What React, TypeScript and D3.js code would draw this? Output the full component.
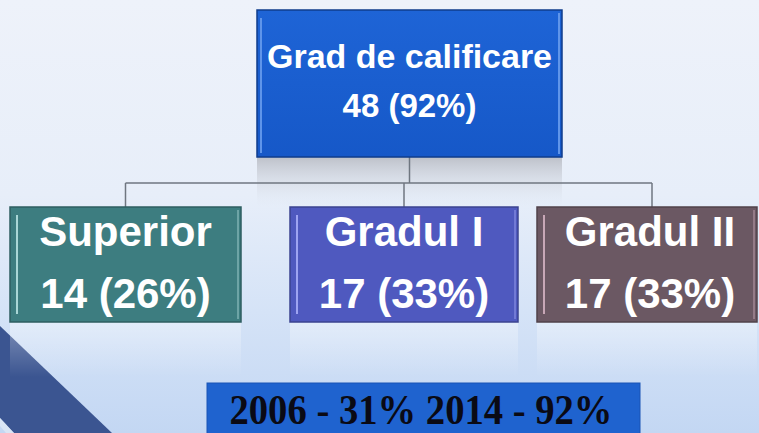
import React from "react";
import * as d3 from "d3";

// ---- data ----
const rootLabel = "Grad de calificare";
const rootValue = 48;
const rootPercent = 92;
const childLabels = ["Superior", "Gradul I", "Gradul II"];
const childValues = [14, 17, 17];
const childPercents = [26, 33, 33];
const childColors = ["#3d7d80", "#4f59bf", "#6b5863"];
const childHighlights = ["#a9d6d6", "#9ea4f2", "#c7a7b6"];
const footerYears = ["2006", "2014"];
const footerPercents = [31, 92];

// ---- layout (not data) ----
const W = 759;
const H = 433;
const childCenters = [125.5, 404, 647];
const childWidths = [231, 228, 220];

export default function App() {
  const xs = d3.scaleOrdinal<string, number>().domain(childLabels).range(childCenters);
  const ws = d3.scaleOrdinal<string, number>().domain(childLabels).range(childWidths);

  const root = { x0: 257, x1: 562, y0: 10, y1: 157 };
  const busY = 183;
  const childTop = 207;
  const childBottom = 322;
  const rootCx = (root.x0 + root.x1) / 2;

  const footerText = footerYears
    .map((yr, i) => `${yr} - ${footerPercents[i]}%`)
    .join(" ");

  const font = "'Liberation Sans', Arial, sans-serif";

  return (
    <svg
      width={W}
      height={H}
      viewBox={`0 0 ${W} ${H}`}
      style={{ position: "absolute", left: 0, top: 0, display: "block" }}
    >
      <defs>
        <linearGradient id="bg" x1="0" y1="0" x2="0" y2="1">
          <stop offset="0" stopColor="#eef2fa" />
          <stop offset="0.45" stopColor="#e7eef9" />
          <stop offset="0.72" stopColor="#d5e3f7" />
          <stop offset="1" stopColor="#c3d7f3" />
        </linearGradient>
        <linearGradient id="refl" x1="0" y1="0" x2="0" y2="1">
          <stop offset="0" stopColor="#b9bcc4" stopOpacity="0.9" />
          <stop offset="1" stopColor="#dde3ee" stopOpacity="0" />
        </linearGradient>
        <linearGradient id="refl2" x1="0" y1="0" x2="0" y2="1">
          <stop offset="0" stopColor="#ffffff" stopOpacity="0.35" />
          <stop offset="1" stopColor="#ffffff" stopOpacity="0" />
        </linearGradient>
        <linearGradient id="rootFill" x1="0" y1="0" x2="0" y2="1">
          <stop offset="0" stopColor="#1e64d6" />
          <stop offset="1" stopColor="#1658c8" />
        </linearGradient>
      </defs>

      <rect x={0} y={0} width={W} height={H} fill="url(#bg)" />

      {/* diagonal band bottom-left */}
      <polygon points={`0,326 112,${H} 14,${H} 0,418`} fill="#3b5591" />
      <polygon points={`0,418 14,${H} 6,${H} 0,426`} fill="#dfe8f5" opacity={0.8} />

      {/* reflection under root */}
      <rect x={root.x0} y={root.y1} width={root.x1 - root.x0} height={50} fill="url(#refl)" />
      {/* reflections under children */}
      {childLabels.map((c) => (
        <rect
          key={"r" + c}
          x={xs(c) - ws(c) / 2}
          y={childBottom}
          width={ws(c)}
          height={55}
          fill="url(#refl2)"
        />
      ))}

      {/* connectors */}
      <g stroke="#6f7680" strokeWidth={1.5} fill="none">
        <line x1={rootCx} y1={root.y1} x2={rootCx} y2={busY} />
        <line x1={xs(childLabels[0])} y1={busY} x2={xs(childLabels[2]) + 5} y2={busY} />
        {childLabels.map((c, i) => (
          <line
            key={"l" + c}
            x1={i === 2 ? xs(c) + 5 : xs(c)}
            y1={busY}
            x2={i === 2 ? xs(c) + 5 : xs(c)}
            y2={childTop}
          />
        ))}
      </g>

      {/* root box */}
      <rect
        x={root.x0}
        y={root.y0}
        width={root.x1 - root.x0}
        height={root.y1 - root.y0}
        fill="url(#rootFill)"
        stroke="#0f3d8c"
        strokeWidth={1.5}
      />
      <line x1={root.x0 + 4} y1={root.y0 + 8} x2={root.x0 + 4} y2={root.y1 - 4} stroke="#5f95ea" strokeWidth={2} />
      <line x1={root.x1 - 3} y1={root.y0 + 3} x2={root.x1 - 3} y2={root.y1 - 3} stroke="#5f95ea" strokeWidth={2} />
      <text
        x={rootCx}
        y={68}
        textAnchor="middle"
        fill="#ffffff"
        fontFamily={font}
        fontWeight="bold"
        fontSize={34}
        textLength={285}
        lengthAdjust="spacingAndGlyphs"
      >
        {rootLabel}
      </text>
      <text
        x={rootCx}
        y={117}
        textAnchor="middle"
        fill="#ffffff"
        fontFamily={font}
        fontWeight="bold"
        fontSize={33}
      >
        {`${rootValue} (${rootPercent}%)`}
      </text>

      {/* child boxes */}
      {childLabels.map((c, i) => {
        const x0 = xs(c) - ws(c) / 2;
        const w = ws(c);
        return (
          <g key={c}>
            <rect
              x={x0}
              y={childTop}
              width={w}
              height={childBottom - childTop}
              fill={childColors[i]}
              stroke={d3.color(childColors[i])!.darker(0.8).formatHex()}
              strokeWidth={1.5}
            />
            <line
              x1={x0 + 7}
              y1={childTop + 8}
              x2={x0 + 7}
              y2={childBottom - 8}
              stroke={childHighlights[i]}
              strokeWidth={2}
            />
            <line
              x1={x0 + w - 3}
              y1={childTop + 3}
              x2={x0 + w - 3}
              y2={childBottom - 3}
              stroke={childHighlights[i]}
              strokeWidth={1.5}
              opacity={0.6}
            />
            <text
              x={xs(c) + (i === 2 ? 3 : 0)}
              y={246}
              textAnchor="middle"
              fill="#ffffff"
              fontFamily={font}
              fontWeight="bold"
              fontSize={42}
            >
              {c}
            </text>
            <text
              x={xs(c) + (i === 2 ? 3 : 0)}
              y={308}
              textAnchor="middle"
              fill="#ffffff"
              fontFamily={font}
              fontWeight="bold"
              fontSize={42}
            >
              {`${childValues[i]} (${childPercents[i]}%)`}
            </text>
          </g>
        );
      })}

      {/* footer */}
      <rect x={207} y={383} width={433} height={H - 383 + 2} fill="#1f63cf" stroke="#1a55b5" strokeWidth={1} />
      <text
        x={421}
        y={424}
        textAnchor="middle"
        fill="#0a0a14"
        fontFamily="'Liberation Serif', 'Times New Roman', serif"
        fontWeight="bold"
        fontSize={42}
        textLength={383}
        lengthAdjust="spacingAndGlyphs"
      >
        {footerText}
      </text>
    </svg>
  );
}
